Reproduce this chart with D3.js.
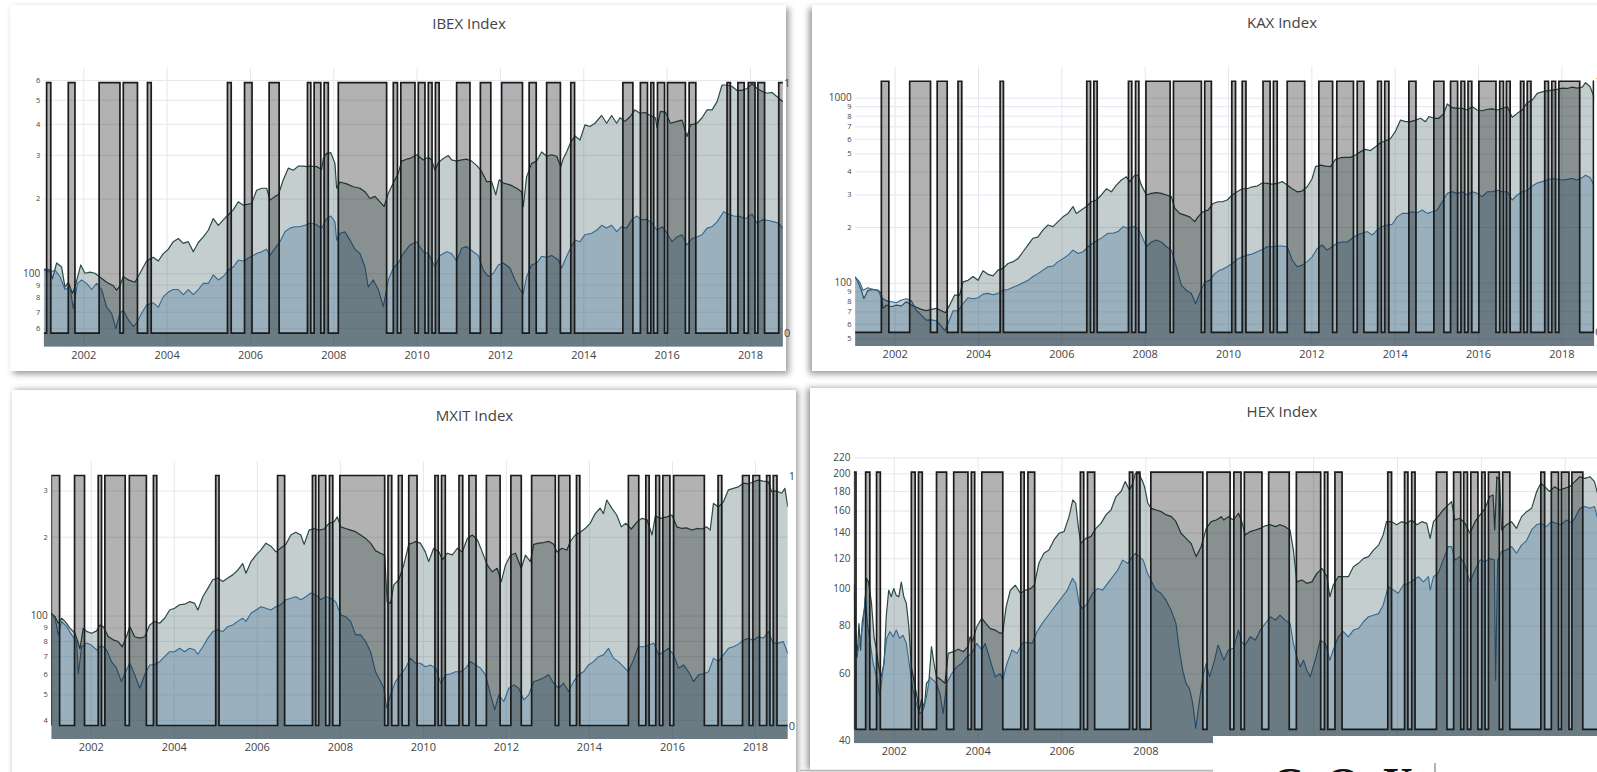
<!DOCTYPE html>
<html>
<head>
<meta charset="utf-8">
<script src="https://cdn.jsdelivr.net/npm/d3@7"></script>
<style>
  html, body { margin: 0; padding: 0; background: #ffffff; }
  svg { display: block; }
  text { font-family: "Open Sans", Verdana, Arial, sans-serif; }
</style>
</head>
<body>
<svg id="chart" width="1597" height="772"></svg>
<script>
// ---------------------------------------------------------------
// Data: [decimal year, level] for the strategy (dark) and the index (blue),
// regime-on periods as [start, end] in decimal years.
// ---------------------------------------------------------------
const dateDomain = [2001.05, 2018.79];
const yearTicks = [2002, 2004, 2006, 2008, 2010, 2012, 2014, 2016, 2018];
const regimeDomain = [-0.054, 1.058];
const regimeTicks = [0, 1];

// ---- IBEX ----
const ibexStrategy = [[2001.05,104],[2001.20,103],[2001.26,95],[2001.36,110],[2001.48,106],[2001.56,88],[2001.64,92],[2001.74,83],[2001.80,88],[2001.94,108],[2002.04,100],[2002.16,101],[2002.28,100],[2002.38,97],[2002.56,92],[2002.72,89],[2002.80,85.6],[2002.88,89],[2002.96,97],[2003.08,94],[2003.24,92],[2003.36,100],[2003.52,112],[2003.68,116],[2003.80,112],[2003.92,120],[2004.04,125],[2004.16,134],[2004.28,138],[2004.40,132],[2004.52,134],[2004.64,122],[2004.76,133],[2004.88,140],[2005.00,149],[2005.12,166],[2005.24,156],[2005.36,164],[2005.48,172],[2005.60,180],[2005.72,194],[2005.84,188],[2006.04,191],[2006.16,216],[2006.28,220],[2006.40,220],[2006.48,197],[2006.60,204],[2006.68,207],[2006.80,238],[2006.92,265],[2007.04,260],[2007.16,270],[2007.28,270],[2007.36,269],[2007.44,270],[2007.60,269],[2007.72,262],[2007.76,290],[2007.84,304],[2007.94,306],[2008.04,277],[2008.08,220],[2008.16,233],[2008.32,229],[2008.48,223],[2008.64,220],[2008.76,213],[2008.88,200],[2009.00,204],[2009.12,194],[2009.22,186],[2009.32,210],[2009.44,231],[2009.56,253],[2009.64,283],[2009.76,288],[2009.84,290],[2010.00,300],[2010.16,286],[2010.28,293],[2010.36,286],[2010.44,260],[2010.52,279],[2010.64,290],[2010.76,298],[2010.84,286],[2010.96,283],[2011.08,286],[2011.20,288],[2011.32,283],[2011.44,272],[2011.56,257],[2011.68,234],[2011.80,234],[2011.90,207],[2011.98,238],[2012.08,231],[2012.24,227],[2012.40,220],[2012.52,213],[2012.56,186],[2012.64,245],[2012.76,277],[2012.88,283],[2013.00,308],[2013.12,296],[2013.24,300],[2013.36,296],[2013.46,269],[2013.52,290],[2013.60,308],[2013.70,338],[2013.80,357],[2013.92,344],[2014.04,396],[2014.16,390],[2014.28,402],[2014.44,432],[2014.56,402],[2014.68,432],[2014.80,402],[2014.88,423],[2015.00,409],[2015.12,427],[2015.24,455],[2015.36,441],[2015.48,444],[2015.61,432],[2015.73,423],[2015.77,385],[2015.85,449],[2015.97,446],[2016.09,402],[2016.25,409],[2016.37,414],[2016.49,355],[2016.57,396],[2016.73,402],[2016.85,423],[2016.97,455],[2017.09,455],[2017.21,491],[2017.33,573],[2017.45,573],[2017.57,565],[2017.69,545],[2017.81,545],[2017.93,555],[2018.05,580],[2018.17,555],[2018.29,541],[2018.41,531],[2018.53,535],[2018.65,514],[2018.79,491]];
const ibexIndex = [[2001.05,103],[2001.20,101],[2001.32,103],[2001.44,97],[2001.56,86],[2001.68,88],[2001.76,72],[2001.86,91],[2001.96,94],[2002.08,91],[2002.20,86],[2002.32,91],[2002.44,86],[2002.56,73],[2002.68,69],[2002.78,60],[2002.88,69],[2002.96,71],[2003.08,65],[2003.20,61],[2003.28,63],[2003.40,69],[2003.52,74.5],[2003.68,76],[2003.80,73],[2003.92,80.5],[2004.04,84],[2004.16,86],[2004.28,86],[2004.40,82],[2004.52,86],[2004.64,82],[2004.76,86],[2004.88,91],[2005.00,91],[2005.12,98.5],[2005.24,94],[2005.36,97],[2005.48,103],[2005.60,106],[2005.72,113],[2005.84,112],[2006.00,116],[2006.16,120],[2006.28,122],[2006.40,125],[2006.48,118],[2006.60,126],[2006.72,134],[2006.84,147],[2006.96,152],[2007.08,154],[2007.20,154],[2007.32,156],[2007.44,159],[2007.56,158],[2007.72,152],[2007.84,166],[2007.94,170],[2008.04,161],[2008.08,136],[2008.16,145],[2008.28,147],[2008.40,136],[2008.52,125],[2008.64,120],[2008.76,106],[2008.84,88],[2008.96,94],[2009.08,86],[2009.20,73.4],[2009.32,94],[2009.44,105],[2009.56,110],[2009.68,120],[2009.84,130],[2010.00,134],[2010.16,122],[2010.28,120],[2010.36,113],[2010.44,106],[2010.56,118],[2010.72,122],[2010.84,120],[2010.96,112],[2011.08,126],[2011.20,128],[2011.36,122],[2011.48,118],[2011.60,103],[2011.72,97],[2011.84,100],[2011.96,108],[2012.08,110],[2012.24,105],[2012.36,94],[2012.48,86],[2012.56,83],[2012.64,97],[2012.76,108],[2012.88,110],[2013.00,117],[2013.12,116],[2013.24,118],[2013.40,113],[2013.48,105],[2013.60,117],[2013.68,125],[2013.80,136],[2013.92,134],[2014.04,143],[2014.20,145],[2014.32,149],[2014.44,156],[2014.56,152],[2014.68,156],[2014.80,147],[2014.92,154],[2015.04,152],[2015.16,164],[2015.28,170],[2015.40,164],[2015.52,165],[2015.65,159],[2015.77,149],[2015.89,154],[2016.01,145],[2016.13,134],[2016.25,140],[2016.37,143],[2016.49,130],[2016.61,138],[2016.73,140],[2016.85,143],[2016.97,152],[2017.09,154],[2017.21,161],[2017.37,177],[2017.49,173],[2017.61,170],[2017.77,169],[2017.89,166],[2018.05,173],[2018.17,159],[2018.29,164],[2018.45,163],[2018.57,161],[2018.69,159],[2018.79,152]];
const ibexRegime = [[2001.12,2001.22],[2001.64,2001.80],[2002.38,2002.88],[2002.96,2003.30],[2003.54,2003.63],[2005.46,2005.55],[2005.87,2006.05],[2006.46,2006.70],[2007.38,2007.46],[2007.54,2007.70],[2007.78,2007.88],[2008.12,2009.28],[2009.44,2009.54],[2009.62,2009.96],[2010.04,2010.20],[2010.28,2010.37],[2010.45,2010.54],[2010.96,2011.28],[2011.53,2011.78],[2012.04,2012.54],[2012.70,2012.87],[2013.12,2013.45],[2013.70,2013.79],[2014.95,2015.19],[2015.37,2015.54],[2015.62,2015.69],[2015.78,2015.95],[2016.02,2016.45],[2016.54,2016.70],[2017.45,2017.53],[2017.71,2017.86],[2017.96,2018.12],[2018.19,2018.35],[2018.69,2018.79]];
const ibexTicks = [60, 70, 80, 90, 100, 200, 300, 400, 500, 600];
const ibexTickLabels = ["6", "7", "8", "9", "100", "2", "3", "4", "5", "6"];

// ---- KAX ----
const kaxStrategy = [[2001.05,107.7],[2001.12,101],[2001.20,91],[2001.26,82],[2001.36,91],[2001.48,92],[2001.60,91],[2001.68,87.6],[2001.72,72.7],[2001.80,75.7],[2001.92,74.2],[2002.04,75.7],[2002.16,75],[2002.28,79],[2002.40,75.7],[2002.52,73.7],[2002.64,71.8],[2002.76,70.6],[2002.88,71.8],[2003.00,72.7],[2003.12,70.6],[2003.22,68.8],[2003.32,75.7],[2003.44,85.8],[2003.56,85.8],[2003.64,101],[2003.76,103],[2003.88,108],[2004.00,103],[2004.12,116],[2004.24,111],[2004.36,109],[2004.48,117],[2004.60,119.5],[2004.72,127],[2004.84,130],[2004.96,135],[2005.08,147],[2005.20,160],[2005.32,174],[2005.44,177],[2005.56,193],[2005.68,205],[2005.80,201],[2005.92,214],[2006.04,227],[2006.16,237],[2006.28,258],[2006.36,237],[2006.48,247],[2006.60,258],[2006.72,274],[2006.84,280],[2006.96,298],[2007.08,322],[2007.20,310],[2007.32,337],[2007.44,359],[2007.56,374],[2007.64,352],[2007.76,381],[2007.84,381],[2007.92,337],[2008.04,298],[2008.16,304],[2008.28,307],[2008.40,304],[2008.52,298],[2008.64,292],[2008.72,253],[2008.84,237],[2008.96,232],[2009.08,227],[2009.20,214],[2009.28,227],[2009.40,242],[2009.52,247],[2009.64,268],[2009.76,274],[2009.86,274],[2009.98,280],[2010.10,298],[2010.22,310],[2010.34,322],[2010.46,322],[2010.58,330],[2010.70,333],[2010.82,346],[2010.94,344],[2011.06,341],[2011.18,344],[2011.30,352],[2011.42,337],[2011.54,322],[2011.66,310],[2011.78,313],[2011.90,330],[2012.02,366],[2012.10,424],[2012.22,432],[2012.34,427],[2012.46,424],[2012.58,464],[2012.70,474],[2012.82,476],[2012.94,476],[2013.06,490],[2013.18,511],[2013.30,526],[2013.42,518],[2013.54,543],[2013.66,571],[2013.78,585],[2013.90,602],[2014.02,660],[2014.14,757],[2014.26,742],[2014.38,742],[2014.50,757],[2014.62,774],[2014.74,742],[2014.82,792],[2014.94,774],[2015.06,774],[2015.18,823],[2015.26,925],[2015.38,883],[2015.50,875],[2015.62,875],[2015.74,858],[2015.86,894],[2015.98,858],[2016.10,850],[2016.22,866],[2016.34,870],[2016.46,858],[2016.58,875],[2016.70,894],[2016.82,784],[2016.94,823],[2017.06,858],[2017.18,940],[2017.30,971],[2017.42,1055],[2017.54,1076],[2017.66,1090],[2017.78,1100],[2017.90,1110],[2018.02,1127],[2018.14,1122],[2018.26,1140],[2018.38,1127],[2018.50,1140],[2018.58,1205],[2018.69,1147],[2018.79,1000]];
const kaxIndex = [[2001.05,107.7],[2001.16,101],[2001.24,91],[2001.36,94],[2001.48,92],[2001.60,91],[2001.68,83],[2001.80,80],[2001.92,79],[2002.04,78],[2002.16,80.6],[2002.28,82],[2002.40,80],[2002.52,71],[2002.64,66.9],[2002.76,62.8],[2002.88,63],[2003.00,62.3],[2003.12,58.3],[2003.20,55],[2003.28,60],[2003.40,70.6],[2003.52,70.6],[2003.64,77],[2003.76,83],[2003.88,82],[2004.00,83],[2004.12,86.8],[2004.24,87.6],[2004.36,86],[2004.48,87.6],[2004.60,91.2],[2004.72,92],[2004.84,94.4],[2004.96,97],[2005.08,100],[2005.20,103],[2005.32,108],[2005.44,112],[2005.56,117],[2005.68,122],[2005.80,123],[2005.92,130],[2006.04,135],[2006.16,141],[2006.28,150],[2006.40,144],[2006.52,147],[2006.64,156],[2006.76,164],[2006.88,170],[2007.00,177],[2007.12,185],[2007.24,185],[2007.36,189],[2007.48,201],[2007.60,197],[2007.72,201],[2007.84,197],[2007.92,181],[2008.04,156.5],[2008.16,166],[2008.28,170],[2008.40,166],[2008.52,156.5],[2008.64,150],[2008.76,122],[2008.88,97],[2009.00,91],[2009.12,87.6],[2009.22,77],[2009.32,87.6],[2009.44,101],[2009.56,103],[2009.68,112],[2009.80,117],[2009.86,118],[2009.98,122],[2010.10,127],[2010.22,134],[2010.34,138],[2010.46,141],[2010.58,143],[2010.70,147],[2010.82,151],[2010.94,156.5],[2011.06,156.5],[2011.18,158],[2011.30,158],[2011.42,156.5],[2011.54,132.6],[2011.66,122],[2011.78,124.5],[2011.90,130],[2012.02,138],[2012.14,153],[2012.26,160],[2012.38,150],[2012.50,156.5],[2012.62,164],[2012.74,166],[2012.86,166],[2012.98,174],[2013.10,181],[2013.22,185],[2013.34,189],[2013.46,181],[2013.58,193],[2013.70,201],[2013.82,205],[2013.94,207],[2014.06,227],[2014.18,237],[2014.30,237],[2014.42,242],[2014.54,239],[2014.66,247],[2014.78,237],[2014.90,242],[2015.02,247],[2015.14,274],[2015.26,304],[2015.38,310],[2015.50,304],[2015.62,310],[2015.74,298],[2015.86,310],[2015.98,304],[2016.10,292],[2016.22,310],[2016.34,310],[2016.46,316],[2016.58,310],[2016.70,310],[2016.82,280],[2016.94,298],[2017.06,310],[2017.18,316],[2017.30,333],[2017.42,346],[2017.54,352],[2017.66,359],[2017.78,366],[2017.90,362],[2018.02,359],[2018.14,362],[2018.26,366],[2018.38,359],[2018.50,370],[2018.58,381],[2018.69,370],[2018.79,333]];
const kaxRegime = [[2001.68,2001.86],[2002.36,2002.86],[2003.02,2003.26],[2003.52,2003.61],[2004.53,2004.61],[2006.61,2006.70],[2006.78,2006.86],[2007.61,2007.69],[2007.78,2007.86],[2008.03,2008.61],[2008.69,2009.36],[2009.44,2009.60],[2010.09,2010.18],[2010.34,2010.43],[2010.84,2011.01],[2011.09,2011.18],[2011.42,2011.84],[2012.18,2012.51],[2012.61,2013.01],[2013.10,2013.26],[2013.59,2013.68],[2013.76,2013.86],[2014.34,2014.51],[2014.94,2015.18],[2015.34,2015.51],[2015.59,2015.68],[2015.76,2015.85],[2016.02,2016.43],[2016.52,2016.61],[2016.68,2016.77],[2017.02,2017.10],[2017.18,2017.27],[2017.60,2017.69],[2017.77,2017.86],[2017.94,2018.44],[2018.77,2018.79]];
const kaxTicks = [50, 60, 70, 80, 90, 100, 200, 300, 400, 500, 600, 700, 800, 900, 1000];
const kaxTickLabels = ["5", "6", "7", "8", "9", "100", "2", "3", "4", "5", "6", "7", "8", "9", "1000"];

// ---- MXIT ----
const mxitStrategy = [[2001.05,102],[2001.14,99],[2001.22,93.5],[2001.30,97.7],[2001.38,95],[2001.50,89.5],[2001.62,85.6],[2001.70,78.5],[2001.74,74.6],[2001.82,89.5],[2001.90,87],[2002.02,85.6],[2002.14,87.4],[2002.22,92],[2002.30,90.8],[2002.42,83.2],[2002.54,80.8],[2002.66,79.6],[2002.76,76],[2002.86,83],[2002.94,90.8],[2003.06,83],[2003.18,82],[2003.30,83],[2003.42,92],[2003.54,94.9],[2003.66,93.5],[2003.78,97.7],[2003.90,105],[2004.02,106.7],[2004.14,110],[2004.26,110.5],[2004.38,113],[2004.50,111.5],[2004.58,105],[2004.70,118],[2004.82,127],[2004.94,137],[2005.06,139],[2005.18,135],[2005.30,139],[2005.42,143],[2005.54,149],[2005.66,158],[2005.74,145],[2005.86,160.7],[2005.98,170],[2006.10,178],[2006.22,189],[2006.34,184],[2006.46,175],[2006.58,181],[2006.70,187],[2006.82,203],[2006.94,208],[2007.06,203],[2007.14,187],[2007.26,212],[2007.38,215],[2007.50,212],[2007.62,214],[2007.74,225],[2007.86,228],[2007.94,238],[2008.02,218],[2008.14,215],[2008.26,212],[2008.38,209],[2008.50,203],[2008.62,197],[2008.74,189],[2008.86,177],[2008.98,173],[2009.08,170],[2009.14,113],[2009.22,111.5],[2009.30,131],[2009.42,137],[2009.54,156],[2009.66,187],[2009.78,190],[2009.82,191.6],[2009.94,189],[2010.06,175],[2010.14,160.7],[2010.26,180.7],[2010.39,175],[2010.47,163],[2010.59,173],[2010.71,170.4],[2010.83,180.7],[2010.95,175],[2011.07,197],[2011.19,203],[2011.31,195],[2011.43,175],[2011.55,156],[2011.67,147],[2011.79,151.5],[2011.89,134.8],[2011.99,156],[2012.11,170],[2012.23,173],[2012.37,151.5],[2012.47,170],[2012.59,160.7],[2012.67,187],[2012.79,189],[2012.91,190],[2013.03,192],[2013.15,187],[2013.23,175],[2013.35,180.7],[2013.47,178],[2013.55,191.6],[2013.67,203],[2013.79,208],[2013.91,215],[2014.03,225],[2014.15,245],[2014.27,257],[2014.35,245],[2014.43,276],[2014.55,257],[2014.67,242],[2014.78,218],[2014.89,225],[2015.02,214],[2015.16,228],[2015.28,235],[2015.40,232],[2015.52,203],[2015.60,240],[2015.72,235],[2015.88,238],[2016.00,242],[2016.12,218],[2016.24,215],[2016.36,216],[2016.48,212],[2016.60,215],[2016.72,214],[2016.84,218],[2016.92,212],[2017.00,268],[2017.12,260],[2017.24,272],[2017.36,302],[2017.48,306],[2017.60,310],[2017.72,320],[2017.84,318],[2017.96,324],[2018.08,329],[2018.20,326],[2018.32,324],[2018.40,297],[2018.52,299],[2018.64,293],[2018.72,306],[2018.79,260]];
const mxitIndex = [[2001.05,102],[2001.14,97.7],[2001.22,84.4],[2001.30,95],[2001.42,90.8],[2001.54,84.4],[2001.66,79.6],[2001.70,60],[2001.78,76],[2001.90,78.5],[2002.02,77],[2002.14,74],[2002.26,77],[2002.38,74],[2002.50,66.7],[2002.62,63],[2002.74,56],[2002.82,60],[2002.94,65.8],[2003.06,59.4],[2003.18,52.8],[2003.30,59.4],[2003.42,64.8],[2003.54,65],[2003.66,66.7],[2003.78,69.7],[2003.90,72.8],[2004.02,72.8],[2004.14,75],[2004.26,72.8],[2004.38,75],[2004.50,74],[2004.58,71.2],[2004.70,76],[2004.82,82],[2004.94,86.9],[2005.06,88.2],[2005.18,86.9],[2005.30,90.8],[2005.42,92.1],[2005.54,95],[2005.66,97.7],[2005.74,95],[2005.86,102],[2005.98,105],[2006.10,108],[2006.22,106.7],[2006.34,105],[2006.46,108],[2006.58,110],[2006.70,115],[2006.82,116.5],[2006.94,118],[2007.06,115],[2007.18,118],[2007.30,122],[2007.42,120],[2007.54,115],[2007.66,118],[2007.78,116.5],[2007.90,113],[2008.02,100.6],[2008.14,99],[2008.26,95],[2008.38,84.4],[2008.50,84.4],[2008.62,79.6],[2008.74,72.8],[2008.86,61],[2008.98,56],[2009.06,52.8],[2009.13,44.3],[2009.22,49.8],[2009.34,56],[2009.46,59.4],[2009.58,63],[2009.70,68.8],[2009.82,65.8],[2009.94,65.8],[2010.06,63.8],[2010.18,64.8],[2010.31,63],[2010.43,55.2],[2010.55,59.4],[2010.67,60],[2010.79,61],[2010.91,61],[2011.03,63],[2011.15,66.7],[2011.27,64.8],[2011.39,63],[2011.51,59.4],[2011.63,49.8],[2011.73,43.7],[2011.83,49.8],[2011.95,47],[2012.07,52.8],[2012.19,54.4],[2012.31,52.8],[2012.43,47.7],[2012.55,49.8],[2012.67,56],[2012.79,56.8],[2012.91,57.9],[2013.03,59.4],[2013.15,55.2],[2013.27,52.8],[2013.39,55.2],[2013.51,51.3],[2013.63,56],[2013.75,59.4],[2013.87,61],[2013.99,64.8],[2014.11,66.7],[2014.23,69.7],[2014.35,70.8],[2014.47,75],[2014.59,68.8],[2014.71,66.7],[2014.83,63.8],[2014.95,61],[2015.07,67.7],[2015.19,76],[2015.32,76],[2015.44,77],[2015.56,78.5],[2015.68,70.8],[2015.80,72.8],[2015.92,75],[2016.04,70.8],[2016.16,63],[2016.28,64.8],[2016.40,61],[2016.52,56],[2016.64,59.4],[2016.76,60],[2016.88,61],[2017.00,68.8],[2017.12,66.7],[2017.24,70.8],[2017.36,75],[2017.48,76],[2017.60,77.8],[2017.72,80.5],[2017.84,82],[2017.96,80.5],[2018.08,83],[2018.20,82],[2018.32,86.9],[2018.44,78.5],[2018.56,78.5],[2018.68,79.6],[2018.79,71.8]];
const mxitRegime = [[2001.05,2001.25],[2001.61,2001.85],[2002.18,2002.26],[2002.34,2002.83],[2002.93,2003.34],[2003.51,2003.59],[2005.01,2005.09],[2006.50,2006.67],[2007.34,2007.42],[2007.49,2007.66],[2007.75,2007.83],[2008.00,2009.08],[2009.16,2009.25],[2009.41,2009.50],[2009.66,2009.86],[2010.29,2010.37],[2010.45,2010.54],[2010.87,2010.96],[2011.11,2011.28],[2011.53,2011.86],[2012.12,2012.37],[2012.62,2013.19],[2013.27,2013.54],[2013.70,2013.78],[2014.95,2015.20],[2015.37,2015.45],[2015.61,2015.70],[2015.78,2015.95],[2016.04,2016.78],[2017.11,2017.20],[2017.70,2017.86],[2017.95,2018.11],[2018.28,2018.36],[2018.44,2018.53]];
const mxitTicks = [40, 50, 60, 70, 80, 90, 100, 200, 300];
const mxitTickLabels = ["4", "5", "6", "7", "8", "9", "100", "2", "3"];

// ---- HEX ----
const hexStrategy = [[2001.05,103.2],[2001.08,81],[2001.13,66.3],[2001.17,81],[2001.21,69],[2001.25,82],[2001.31,89.6],[2001.35,106.3],[2001.40,104],[2001.47,91.5],[2001.53,74.8],[2001.59,69],[2001.64,62.4],[2001.70,58.8],[2001.77,63.7],[2001.82,84.4],[2001.88,99],[2001.94,95.2],[2002.00,100],[2002.06,96],[2002.12,95.2],[2002.18,104],[2002.24,95.2],[2002.30,91.5],[2002.36,79.5],[2002.42,62.4],[2002.48,57.6],[2002.54,53.2],[2002.61,48.1],[2002.66,51.2],[2002.73,49.1],[2002.78,56.5],[2002.84,57.6],[2002.90,70.5],[2002.96,63.7],[2003.02,58.8],[2003.08,58.3],[2003.14,57.6],[2003.22,56.5],[2003.30,67.7],[2003.42,68.4],[2003.54,69.4],[2003.66,68.4],[2003.77,70.5],[2003.82,74.8],[2003.88,72.9],[2003.98,79.5],[2004.10,83.6],[2004.20,81],[2004.30,78.6],[2004.42,77.9],[2004.54,76.3],[2004.60,77],[2004.68,89.6],[2004.78,99],[2004.90,102],[2005.02,97.2],[2005.14,99],[2005.26,100],[2005.35,102],[2005.46,116.4],[2005.58,123.7],[2005.70,126.1],[2005.82,134],[2005.94,139.5],[2006.06,140.9],[2006.18,154.2],[2006.27,170.5],[2006.34,167.1],[2006.40,145.2],[2006.46,131.3],[2006.58,135.3],[2006.70,136.7],[2006.82,143.7],[2006.94,148.1],[2007.06,155.8],[2007.18,160.5],[2007.30,174],[2007.42,179.4],[2007.52,190.4],[2007.62,181.1],[2007.70,188.5],[2007.76,200],[2007.84,200],[2007.92,192.3],[2007.98,184.7],[2008.06,167.1],[2008.14,162.1],[2008.26,160.5],[2008.38,158.9],[2008.50,155.8],[2008.62,154.2],[2008.73,149.6],[2008.85,139.5],[2008.97,135.3],[2009.09,131.3],[2009.21,121.2],[2009.33,128.7],[2009.45,143.7],[2009.57,149.6],[2009.69,151.1],[2009.81,154.2],[2009.87,151.1],[2009.98,154.2],[2010.10,151.1],[2010.22,157.3],[2010.30,149.6],[2010.38,138.1],[2010.50,140.9],[2010.62,142.3],[2010.74,143.7],[2010.86,145.9],[2010.98,146.9],[2011.10,145.2],[2011.21,146.9],[2011.33,145.2],[2011.45,142.3],[2011.53,126.1],[2011.61,104.1],[2011.73,105.3],[2011.85,103.2],[2011.97,104.1],[2012.09,109.6],[2012.21,112.9],[2012.33,107.4],[2012.40,95.2],[2012.48,102.2],[2012.60,107.4],[2012.72,107.4],[2012.84,107.4],[2012.96,114.1],[2013.08,116.4],[2013.20,119.9],[2013.32,121.2],[2013.44,126.1],[2013.56,129.9],[2013.67,138.1],[2013.75,149.6],[2013.87,149.6],[2013.99,146.9],[2014.11,149.6],[2014.23,148.1],[2014.35,151.1],[2014.47,146.9],[2014.59,149.6],[2014.71,148.1],[2014.79,135.3],[2014.87,149.6],[2014.98,154.2],[2015.10,160.5],[2015.22,165.5],[2015.30,168.7],[2015.38,151.1],[2015.50,152.7],[2015.62,148.1],[2015.74,139.5],[2015.86,149.6],[2015.98,155.8],[2016.10,162.1],[2016.21,174],[2016.29,175.7],[2016.33,142.3],[2016.38,196],[2016.45,192.3],[2016.49,142.3],[2016.61,146.9],[2016.73,149.6],[2016.85,143.7],[2016.97,154.2],[2017.09,158.9],[2017.21,162.1],[2017.33,179.4],[2017.43,188.5],[2017.52,184.7],[2017.64,179.4],[2017.76,184.7],[2017.88,181.1],[2018.00,182.9],[2018.12,184.7],[2018.24,190.4],[2018.36,196.1],[2018.48,194.2],[2018.60,196.1],[2018.71,190.4],[2018.79,175.7]];
const hexIndex = [[2001.05,97.2],[2001.11,66.3],[2001.19,71.9],[2001.27,81],[2001.32,95.2],[2001.37,81],[2001.43,73.3],[2001.51,63.7],[2001.59,58.8],[2001.67,52.2],[2001.75,62.4],[2001.83,74.1],[2001.91,77.2],[2001.99,74.8],[2002.06,77.9],[2002.14,74.1],[2002.22,75.5],[2002.30,71.9],[2002.38,62.4],[2002.46,54.3],[2002.54,50.1],[2002.62,47.1],[2002.70,48.1],[2002.78,52.2],[2002.86,58.8],[2002.94,57.6],[2003.02,56.5],[2003.10,53.2],[2003.18,47.1],[2003.26,56.5],[2003.38,59.9],[2003.50,62.4],[2003.62,63.7],[2003.74,66.3],[2003.86,67.7],[2003.98,71.9],[2004.10,69.1],[2004.18,71.9],[2004.30,65],[2004.42,58.8],[2004.54,59.9],[2004.60,57.6],[2004.70,63.7],[2004.82,69.1],[2004.94,67.7],[2005.06,71.9],[2005.18,72.4],[2005.30,71.9],[2005.42,77.2],[2005.54,81.1],[2005.66,84.4],[2005.78,87.9],[2005.90,91.5],[2006.02,95.2],[2006.14,99.1],[2006.26,106.3],[2006.34,103.2],[2006.42,91.5],[2006.50,88.6],[2006.62,91.5],[2006.74,97.2],[2006.86,100],[2006.98,99.1],[2007.10,103.2],[2007.22,107.4],[2007.34,111.8],[2007.46,118.7],[2007.58,116.4],[2007.66,119.9],[2007.76,123.7],[2007.86,121.2],[2007.95,118.7],[2008.05,109.6],[2008.13,105.3],[2008.25,99.1],[2008.37,97.2],[2008.49,93.3],[2008.61,87.9],[2008.73,81.1],[2008.81,69.1],[2008.89,61.2],[2008.97,56.5],[2009.05,54.8],[2009.13,50.1],[2009.20,43.1],[2009.28,50.1],[2009.37,58.8],[2009.45,63.7],[2009.53,58.8],[2009.65,65],[2009.73,71.2],[2009.81,67.7],[2009.87,65],[2009.98,69.1],[2010.10,69.8],[2010.22,77.9],[2010.30,72.4],[2010.38,71.2],[2010.50,74.8],[2010.62,73.3],[2010.74,77.9],[2010.86,81.1],[2010.98,84.4],[2011.10,82.7],[2011.21,85.2],[2011.33,82.7],[2011.45,81.1],[2011.53,71.9],[2011.61,66.3],[2011.69,62.4],[2011.77,65],[2011.85,61.2],[2011.93,58.8],[2012.05,65],[2012.17,73.3],[2012.29,71.9],[2012.40,65],[2012.48,69.1],[2012.60,74.8],[2012.72,77.2],[2012.84,74.8],[2012.96,77.9],[2013.08,78.6],[2013.20,81.9],[2013.32,84.4],[2013.44,85.2],[2013.56,86],[2013.67,90.5],[2013.79,101.1],[2013.91,99.1],[2014.03,97.2],[2014.15,102.2],[2014.27,103.2],[2014.39,105.3],[2014.51,107.4],[2014.63,104.1],[2014.75,107.4],[2014.79,99.1],[2014.87,107.4],[2014.98,109.6],[2015.10,118.7],[2015.22,128.7],[2015.30,128.7],[2015.38,118.7],[2015.50,121.2],[2015.62,115.2],[2015.74,104.1],[2015.86,111.8],[2015.98,118.7],[2016.10,117.5],[2016.21,119.9],[2016.32,118.7],[2016.35,57.6],[2016.40,118.7],[2016.49,124.9],[2016.61,126.1],[2016.73,128.7],[2016.85,123.7],[2016.97,129.9],[2017.09,133.5],[2017.21,142.3],[2017.33,146.9],[2017.44,148.1],[2017.56,145.2],[2017.68,149.6],[2017.80,148.1],[2017.92,146.9],[2018.04,151.1],[2018.16,148.7],[2018.24,152.7],[2018.36,162.1],[2018.48,163.8],[2018.60,162.1],[2018.71,163.8],[2018.79,151.1]];
const hexRegime = [[2001.05,2001.10],[2001.33,2001.43],[2001.59,2001.68],[2002.42,2002.51],[2002.59,2002.68],[2003.02,2003.26],[2003.43,2003.77],[2003.85,2003.93],[2004.10,2004.60],[2005.03,2005.11],[2005.20,2005.36],[2006.45,2006.53],[2006.62,2006.79],[2007.62,2007.70],[2007.79,2007.87],[2008.13,2009.37],[2009.47,2010.02],[2010.11,2010.28],[2010.36,2010.78],[2010.94,2011.43],[2011.60,2012.18],[2012.27,2012.35],[2012.52,2012.69],[2013.78,2013.87],[2014.18,2014.26],[2014.35,2014.43],[2014.94,2015.19],[2015.35,2015.52],[2015.59,2015.68],[2015.76,2015.93],[2016.02,2016.10],[2016.18,2016.44],[2016.52,2016.69],[2017.43,2017.52],[2017.68,2017.85],[2017.92,2018.10],[2018.17,2018.43]];
const hexTicks = [40, 60, 80, 100, 120, 140, 160, 180, 200, 220];
const hexTickLabels = ["40", "60", "80", "100", "120", "140", "160", "180", "200", "220"];

// ---------------------------------------------------------------
// Layout of the four cards and their plot areas
// ---------------------------------------------------------------
const panels = [
  { id: "ibex", title: "IBEX Index", strategy: ibexStrategy, index: ibexIndex, regime: ibexRegime,
    ticks: ibexTicks, tickLabels: ibexTickLabels, yDomain: [50.6, 671],
    left: 43.7, right: 782.9, top: 68, bottom: 346.7, titleX: 469, titleY: 24, rightLabels: true,
    card: { x: 10, y: 5, w: 776, h: 366, dx: 3, dy: 3 } },
  { id: "kax", title: "KAX Index", strategy: kaxStrategy, index: kaxIndex, regime: kaxRegime,
    ticks: kaxTicks, tickLabels: kaxTickLabels, yDomain: [45.5, 1471],
    left: 855.1, right: 1594.3, top: 66.7, bottom: 346, titleX: 1282, titleY: 23, rightLabels: true,
    card: { x: 812, y: 5, w: 800, h: 366, dx: -3, dy: 3 } },
  { id: "mxit", title: "MXIT Index", strategy: mxitStrategy, index: mxitIndex, regime: mxitRegime,
    ticks: mxitTicks, tickLabels: mxitTickLabels, yDomain: [33.8, 389],
    left: 51.3, right: 787.8, top: 461, bottom: 739, titleX: 474.5, titleY: 416, rightLabels: true,
    card: { x: 12, y: 390, w: 784, h: 400, dx: 2, dy: 0 } },
  { id: "hex", title: "HEX Index", strategy: hexStrategy, index: hexIndex, regime: hexRegime,
    ticks: hexTicks, tickLabels: hexTickLabels, yDomain: [39.4, 220.4],
    left: 853.9, right: 1597.9, top: 457.3, bottom: 743.3, titleX: 1282, titleY: 412, rightLabels: false,
    card: { x: 810, y: 388, w: 800, h: 382, dx: -3, dy: 0 } }
];

const svg = d3.select("#chart");
const defs = svg.append("defs");

// soft card shadows
panels.forEach(p => {
  const f = defs.append("filter").attr("id", "shadow-" + p.id)
    .attr("x", "-5%").attr("y", "-5%").attr("width", "110%").attr("height", "110%");
  f.append("feDropShadow").attr("dx", p.card.dx).attr("dy", p.card.dy)
    .attr("stdDeviation", 3).attr("flood-color", "#000").attr("flood-opacity", 0.4);
});

// cards first, so no shadow falls over a neighbouring chart
panels.forEach(p => {
  svg.append("rect").attr("x", p.card.x).attr("y", p.card.y)
    .attr("width", p.card.w).attr("height", p.card.h)
    .attr("fill", "#ffffff").attr("filter", `url(#shadow-${p.id})`);
});

// regime on/off series as step points
function regimeSteps(periods) {
  const pts = [[dateDomain[0], 0]];
  periods.forEach(([s, e]) => {
    pts.push([Math.max(s, dateDomain[0]), 1]);
    if (e < dateDomain[1]) pts.push([e, 0]);
  });
  pts.push([dateDomain[1], pts[pts.length - 1][1]]);
  return pts;
}

const gridColor = "#e3e7ef";
const labelColor = "#444444";

function drawPanel(p) {
  const g = svg.append("g").attr("class", "panel-" + p.id);
  const x = d3.scaleLinear().domain(dateDomain).range([p.left, p.right]);
  const y = d3.scaleLog().domain(p.yDomain).range([p.bottom, p.top]);
  const y2 = d3.scaleLinear().domain(regimeDomain).range([p.bottom, p.top]);
  const w = p.right - p.left;
  const h = p.bottom - p.top;

  defs.append("clipPath").attr("id", "clip-" + p.id)
    .append("rect").attr("x", p.left).attr("y", p.top).attr("width", w).attr("height", h);

  // grid
  const gx = g.append("g").attr("transform", `translate(0,${p.bottom})`)
    .call(d3.axisBottom(x).tickValues(yearTicks).tickSize(-h).tickFormat(""));
  const gy = g.append("g").attr("transform", `translate(${p.left},0)`)
    .call(d3.axisLeft(y).tickValues(p.ticks).tickSize(-w).tickFormat(""));
  [gx, gy].forEach(a => {
    a.select(".domain").remove();
    a.selectAll("line").attr("stroke", gridColor).attr("stroke-width", 1);
  });

  const plot = g.append("g").attr("clip-path", `url(#clip-${p.id})`);
  const area = d3.area().x(d => x(d[0])).y0(p.bottom).y1(d => y(d[1]));
  const line = d3.line().x(d => x(d[0])).y(d => y(d[1]));

  plot.append("path").datum(p.strategy).attr("d", area).attr("fill", "rgba(47,79,79,0.28)");
  plot.append("path").datum(p.strategy).attr("d", line)
    .attr("fill", "none").attr("stroke", "#2a4a46").attr("stroke-width", 1.2).attr("stroke-linejoin", "round");

  plot.append("path").datum(p.index).attr("d", area).attr("fill", "rgba(56,107,150,0.30)");
  plot.append("path").datum(p.index).attr("d", line)
    .attr("fill", "none").attr("stroke", "#336891").attr("stroke-width", 1.1).attr("stroke-linejoin", "round");

  const steps = regimeSteps(p.regime);
  const rArea = d3.area().curve(d3.curveStepAfter).x(d => x(d[0])).y0(p.bottom).y1(d => y2(d[1]));
  const rLine = d3.line().curve(d3.curveStepAfter).x(d => x(d[0])).y(d => y2(d[1]));
  plot.append("path").datum(steps).attr("d", rArea).attr("fill", "rgba(0,0,0,0.30)");
  plot.append("path").datum(steps).attr("d", rLine)
    .attr("fill", "none").attr("stroke", "#1b1b1b").attr("stroke-width", 1.7).attr("stroke-linejoin", "miter");

  // x tick labels
  const ax = g.append("g").attr("transform", `translate(0,${p.bottom})`)
    .call(d3.axisBottom(x).tickValues(yearTicks).tickSize(0).tickPadding(4).tickFormat(d3.format("d")));
  ax.select(".domain").remove();
  ax.selectAll("text").attr("fill", labelColor).style("font-size", "11px")
    .style("font-family", '"Open Sans", Verdana, Arial, sans-serif');

  // y tick labels (small digits between the decades)
  const ay = g.append("g").attr("transform", `translate(${p.left},0)`)
    .call(d3.axisLeft(y).tickValues(p.ticks).tickSize(0).tickPadding(3.5)
      .tickFormat((d, i) => p.tickLabels[i]));
  ay.select(".domain").remove();
  ay.selectAll("text").attr("fill", labelColor)
    .style("font-family", '"Open Sans", Verdana, Arial, sans-serif')
    .style("font-size", (d, i) => p.tickLabels[i].length > 1 ? "10px" : "7.5px");

  // regime axis on the right
  if (p.rightLabels) {
    const ar = g.append("g").attr("transform", `translate(${p.right},0)`)
      .call(d3.axisRight(y2).tickValues(regimeTicks).tickSize(0).tickPadding(1).tickFormat(d3.format("d")));
    ar.select(".domain").remove();
    ar.selectAll("text").attr("fill", labelColor).style("font-size", "11px")
      .style("font-family", '"Open Sans", Verdana, Arial, sans-serif');
  }

  // title
  g.append("text").attr("x", p.titleX).attr("y", p.titleY).attr("dy", "0.35em")
    .attr("text-anchor", "middle").attr("fill", "#444444").style("font-size", "15px")
    .text(p.title);
}

panels.forEach(drawPanel);

// the window in the lower right: a white sheet over the HEX chart
const sheet = svg.append("g");
sheet.append("line").attr("x1", 800).attr("x2", 1213).attr("y1", 770.5).attr("y2", 770.5)
  .attr("stroke", "#b8b8b8").attr("stroke-width", 1.5);
sheet.append("rect").attr("x", 1213).attr("y", 736).attr("width", 390).attr("height", 40).attr("fill", "#ffffff");
[["C", 1288], ["O", 1343], ["X", 1398]].forEach(([ch, cx]) => {
  sheet.append("text").attr("x", cx).attr("y", 798).attr("text-anchor", "middle")
    .attr("fill", "#111111").style("font-family", '"Liberation Serif", "DejaVu Serif", serif')
    .style("font-weight", "bold").style("font-size", "44px").text(ch);
});
sheet.append("line").attr("x1", 1435).attr("x2", 1435).attr("y1", 763).attr("y2", 772)
  .attr("stroke", "#666666").attr("stroke-width", 1);
</script>
</body>
</html>
